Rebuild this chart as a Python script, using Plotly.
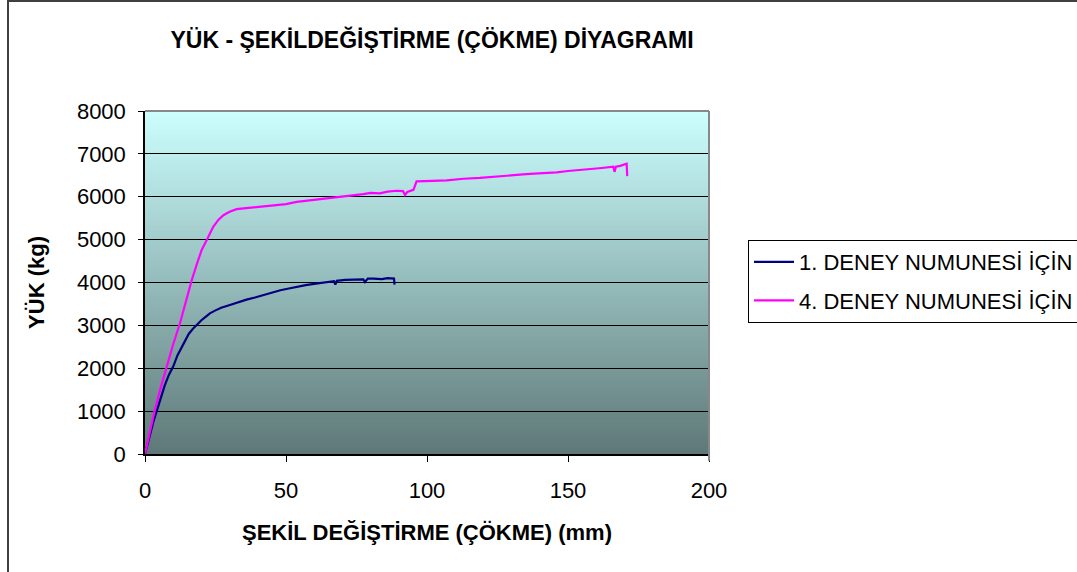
import plotly.graph_objects as go

# Load vs. deflection readings for the two test specimens
x_num1 = [0, 1, 2, 3, 4.1, 5.5, 7, 8.5, 10, 11.5, 13.6, 15.5, 17, 18.3, 20, 21.5,
          23, 25, 27, 30.1, 33, 36, 39, 42, 45, 48, 51, 53.8, 57, 60, 63, 65.6,
          67, 67.5, 68, 71, 74, 77.4, 78, 79, 81, 84, 86, 88, 88.3, 88.5]
y_num1 = [0, 260, 520, 760, 990, 1300, 1600, 1850, 2040, 2300, 2580, 2800, 2920, 3010, 3120, 3200,
          3280, 3350, 3410, 3475, 3540, 3600, 3650, 3710, 3770, 3820, 3860, 3900, 3940, 3970, 4000, 4020,
          4030, 3950, 4040, 4060, 4070, 4075, 4010, 4090, 4090, 4080, 4100, 4100, 4090, 3950]

x_num4 = [0, 1.5, 3.5, 5.5, 7.7, 10, 12.4, 14.5, 16.6, 18.5, 20.1, 21.9, 24.2, 26, 27.8, 30,
          32.5, 35, 38, 42, 46, 50, 53.8, 58, 62, 65.6, 70, 74, 77.4, 80, 83.3, 86,
          89.2, 91.5, 92.2, 93, 94.5, 95.2, 96.3, 98, 102, 107, 110, 113, 118.8, 122,
          126, 130.6, 134, 138, 142.4, 146, 150, 154.3, 158, 162, 166.1, 166.5, 167, 168.5,
          170.8, 171]
y_num4 = [0, 450, 1030, 1530, 2040, 2560, 3050, 3560, 4060, 4450, 4760, 4990, 5300, 5460, 5570, 5650,
          5710, 5730, 5750, 5760, 5800, 5830, 5880, 5910, 5940, 5960, 6000, 6030, 6060, 6090, 6080, 6120,
          6140, 6130, 6040, 6110, 6150, 6160, 6360, 6360, 6370, 6380, 6400, 6420, 6440, 6460,
          6480, 6500, 6520, 6540, 6550, 6570, 6600, 6620, 6640, 6670, 6700, 6580, 6700, 6720,
          6770, 6480]

series_names = ["1. DENEY NUMUNESİ İÇİN", "4. DENEY NUMUNESİ İÇİN"]
x_ticks = [0, 50, 100, 150, 200]
y_ticks = [0, 1000, 2000, 3000, 4000, 5000, 6000, 7000, 8000]

FONT = "Liberation Sans, Arial, sans-serif"

fig = go.Figure()
fig.add_trace(go.Scatter(x=x_num1, y=y_num1, mode="lines", name=series_names[0],
                         legendgroup="a", line=dict(color="#000080", width=2.2)))
fig.add_trace(go.Scatter(x=x_num4, y=y_num4, mode="lines", name=series_names[1],
                         legendgroup="b", line=dict(color="#FF00FF", width=2.2)))

# Vertical gradient behind the plot area (light cyan to slate); bands overlap to hide seams
top = (204, 255, 255)
bot = (94, 120, 119)
n = 120
shapes = []
for i in range(n):
    t = (i + 0.5) / n
    c = tuple(round(bot[k] + (top[k] - bot[k]) * t) for k in range(3))
    shapes.append(dict(type="rect", xref="x domain", yref="y domain",
                       x0=0, x1=1, y0=i / n, y1=min(1, (i + 2) / n),
                       fillcolor="rgb(%d,%d,%d)" % c, line=dict(width=0), layer="below"))

# Gray frame on the top and right of the plot area
shapes.append(dict(type="line", xref="x domain", yref="y domain", x0=0, x1=1, y0=1, y1=1,
                   line=dict(color="#888888", width=2)))
shapes.append(dict(type="line", xref="x domain", yref="paper", x0=1, x1=1, y0=-0.02, y1=1,
                   line=dict(color="#888888", width=2)))
# Outer chart border
shapes.append(dict(type="rect", xref="paper", yref="paper",
                   x0=(8 - 145) / 564, x1=(1085 - 145) / 564,
                   y0=(454 - 580) / 343, y1=(454 - 1) / 343,
                   line=dict(color="#404040", width=2), fillcolor="rgba(0,0,0,0)"))

fig.update_layout(
    width=1077, height=572,
    margin=dict(l=145, r=368, t=111, b=118, autoexpand=False),
    paper_bgcolor="white", plot_bgcolor="rgba(0,0,0,0)",
    font=dict(family=FONT, size=22, color="black"),
    title=dict(text="<b>YÜK - ŞEKİLDEĞİŞTİRME (ÇÖKME) DİYAGRAMI</b>",
               font=dict(family=FONT, size=23, color="black"),
               xref="paper", x=(432 - 145) / 564, xanchor="center",
               yref="container", y=1 - 40 / 572, yanchor="middle"),
    shapes=shapes,
    showlegend=True,
    legend=dict(x=(748 - 145) / 564, xanchor="left", y=(454 - 240) / 343, yanchor="top",
                bgcolor="white", bordercolor="black", borderwidth=1,
                font=dict(family=FONT, size=22, color="black"),
                traceorder="grouped", tracegroupgap=7, itemwidth=40),
)

fig.update_xaxes(range=[0, 200], tickvals=x_ticks, ticks="outside", ticklen=6,
                 tickcolor="black", showline=True, linecolor="black", linewidth=1.5,
                 showgrid=False, zeroline=False, ticklabelstandoff=10,
                 tickfont=dict(family=FONT, size=22),
                 title=dict(text="<b>ŞEKİL DEĞİŞTİRME (ÇÖKME) (mm)</b>", standoff=22,
                            font=dict(family=FONT, size=22)))
fig.update_yaxes(range=[0, 8000], tickvals=y_ticks, ticks="outside", ticklen=5,
                 tickcolor="black", showline=True, linecolor="black", linewidth=1.5,
                 showgrid=True, gridcolor="black", gridwidth=1, zeroline=False,
                 ticklabelstandoff=8, tickfont=dict(family=FONT, size=22),
                 title=dict(text="<b>YÜK (kg)</b>", standoff=26,
                            font=dict(family=FONT, size=22)))

fig.write_html("out.html")
